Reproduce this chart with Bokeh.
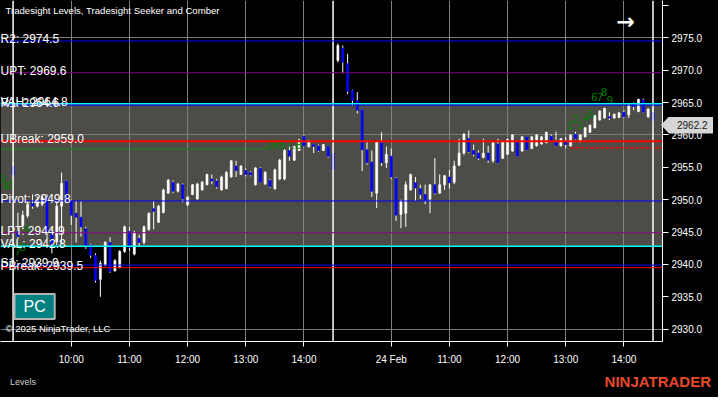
from bokeh.plotting import figure
from bokeh.layouts import column
from bokeh.models import Range1d, FixedTicker, Span, BoxAnnotation, Label, ColumnDataSource, NumeralTickFormatter, Div
from bokeh.embed import file_html
from bokeh.resources import INLINE
from bokeh.core.properties import value

# ---------------- data (5-minute bars, index 0..132) ----------------
opens = [2955.2, 2945.1, 2946.0, 2947.5, 2949.4, 2949.0, 2949.3, 2950.3, 2945.1, 2943.5,
         2949.0, 2952.9, 2949.8, 2947.9, 2947.3, 2945.5, 2943.0, 2941.4, 2937.7, 2939.9,
         2943.4, 2939.0, 2939.5, 2942.0, 2945.1, 2941.6, 2944.0, 2943.4, 2945.4, 2948.6,
         2946.5, 2948.0, 2951.0, 2952.7, 2951.3, 2952.3, 2949.2, 2950.8, 2950.1, 2951.5,
         2952.3, 2953.2, 2952.9, 2951.5, 2951.7, 2953.5, 2955.2, 2953.9, 2954.5, 2954.2,
         2952.3, 2954.8, 2952.4, 2953.0, 2951.7, 2953.2, 2953.2, 2957.6, 2956.1, 2957.6,
         2959.8, 2958.2, 2958.5, 2958.3, 2957.6, 2958.2, 2957.2,
         2971.5, 2973.4, 2971.0, 2966.9, 2965.3, 2963.9, 2957.7, 2955.8, 2951.0, 2958.8,
         2955.7, 2956.7, 2953.3, 2947.7, 2947.9, 2951.5, 2952.6, 2951.7, 2950.8, 2950.1,
         2952.3, 2951.0, 2952.3, 2953.5, 2952.7, 2955.3, 2957.2, 2959.4, 2957.6, 2957.2,
         2956.5, 2957.2, 2956.0, 2958.6, 2956.4, 2957.0, 2957.5, 2958.9, 2957.5, 2959.7,
         2957.9, 2958.3, 2958.6, 2958.8, 2959.8, 2959.1, 2958.3, 2958.9, 2958.3, 2960.1,
         2959.0, 2959.7, 2960.4, 2961.1, 2962.3, 2962.6, 2962.8, 2962.6, 2962.7, 2963.5,
         2963.1, 2964.8, 2963.6, 2965.4, 2962.8, 2963.5]
highs = [2955.7, 2948.0, 2948.3, 2949.8, 2950.8, 2950.5, 2950.6, 2950.8, 2945.4, 2949.8,
         2954.2, 2953.0, 2950.0, 2949.8, 2949.8, 2945.8, 2943.2, 2941.7, 2940.6, 2943.6,
         2944.2, 2940.8, 2942.2, 2946.0, 2945.8, 2945.2, 2944.6, 2946.0, 2948.0, 2949.8,
         2949.2, 2951.7, 2953.2, 2953.0, 2952.6, 2952.5, 2950.5, 2952.4, 2952.6, 2952.9,
         2954.0, 2953.9, 2953.2, 2953.7, 2954.4, 2956.1, 2956.0, 2955.3, 2954.8, 2954.4,
         2955.0, 2955.0, 2954.4, 2953.2, 2954.8, 2956.3, 2957.8, 2958.2, 2958.3, 2959.4,
         2960.0, 2959.2, 2958.6, 2958.5, 2958.6, 2958.3, 2957.4,
         2974.1, 2973.8, 2972.5, 2967.0, 2966.6, 2964.0, 2959.2, 2957.6, 2959.1, 2960.4,
         2958.2, 2957.9, 2953.5, 2950.0, 2952.8, 2954.0, 2953.5, 2952.3, 2952.3, 2952.4,
         2956.4, 2953.9, 2953.8, 2954.6, 2956.0, 2959.4, 2960.3, 2960.7, 2958.5, 2957.6,
         2959.4, 2958.3, 2958.9, 2959.4, 2959.1, 2959.4, 2960.1, 2959.1, 2959.8, 2959.8,
         2959.8, 2960.1, 2959.8, 2960.5, 2960.1, 2960.5, 2959.5, 2959.7, 2960.1, 2960.5,
         2960.1, 2961.2, 2961.6, 2963.1, 2963.8, 2964.2, 2963.5, 2963.3, 2963.5, 2963.8,
         2964.8, 2965.0, 2965.6, 2965.6, 2964.1, 2964.1]
lows = [2953.5, 2943.9, 2945.6, 2947.2, 2948.6, 2948.8, 2949.0, 2943.9, 2941.7, 2943.0,
        2943.1, 2949.8, 2946.1, 2943.4, 2944.3, 2942.4, 2941.0, 2937.2, 2935.0, 2939.7,
        2938.7, 2938.9, 2939.4, 2941.8, 2942.1, 2941.4, 2942.8, 2943.1, 2945.2, 2945.4,
        2946.4, 2947.9, 2950.9, 2951.0, 2951.1, 2949.6, 2949.0, 2950.7, 2950.0, 2951.4,
        2952.2, 2952.4, 2951.7, 2951.4, 2951.6, 2953.4, 2953.5, 2953.8, 2953.6, 2953.6,
        2952.2, 2952.6, 2952.3, 2951.8, 2951.5, 2953.0, 2953.0, 2956.0, 2956.0, 2957.5,
        2958.2, 2958.0, 2957.2, 2957.4, 2957.5, 2956.5, 2954.5,
        2971.2, 2969.5, 2966.3, 2964.5, 2963.3, 2954.4, 2955.4, 2950.4, 2948.7, 2955.2,
        2954.9, 2953.2, 2946.7, 2945.6, 2945.8, 2951.4, 2949.8, 2950.1, 2949.3, 2947.9,
        2950.8, 2950.9, 2951.5, 2951.7, 2952.4, 2955.2, 2956.9, 2957.2, 2956.7, 2956.1,
        2956.4, 2955.7, 2955.7, 2955.6, 2956.3, 2956.9, 2957.4, 2956.6, 2957.4, 2957.6,
        2957.8, 2958.2, 2958.5, 2958.7, 2958.9, 2958.2, 2958.2, 2957.9, 2958.2, 2959.3,
        2958.8, 2959.6, 2960.3, 2961.0, 2962.2, 2962.5, 2962.3, 2962.5, 2962.6, 2962.6,
        2962.6, 2963.8, 2963.5, 2963.4, 2962.6, 2962.2]
closes = [2953.8, 2944.3, 2947.6, 2949.3, 2949.0, 2950.0, 2950.3, 2945.1, 2943.1, 2949.0,
          2952.5, 2949.9, 2947.6, 2947.3, 2945.8, 2942.8, 2941.4, 2937.5, 2940.2, 2943.4,
          2938.9, 2940.6, 2942.0, 2945.8, 2942.6, 2944.9, 2943.4, 2945.8, 2947.9, 2948.2,
          2949.0, 2951.5, 2953.0, 2951.3, 2952.4, 2950.1, 2950.4, 2952.3, 2952.4, 2952.7,
          2953.9, 2952.9, 2952.0, 2953.5, 2954.2, 2956.0, 2954.5, 2955.2, 2953.9, 2953.8,
          2954.9, 2952.7, 2954.2, 2952.0, 2954.6, 2956.1, 2957.6, 2956.7, 2958.2, 2959.2,
          2958.3, 2959.1, 2958.2, 2957.6, 2958.5, 2956.7, 2954.6,
          2973.8, 2971.2, 2966.7, 2965.3, 2963.8, 2957.7, 2955.7, 2951.3, 2958.9, 2955.7,
          2957.0, 2953.5, 2947.6, 2949.8, 2952.3, 2953.9, 2951.8, 2950.8, 2949.9, 2952.3,
          2951.0, 2952.3, 2953.7, 2952.6, 2955.2, 2957.2, 2960.1, 2957.4, 2957.0, 2956.4,
          2957.2, 2956.1, 2958.8, 2955.7, 2959.0, 2959.3, 2960.0, 2956.7, 2959.7, 2957.7,
          2959.7, 2960.0, 2959.7, 2960.4, 2959.1, 2958.3, 2959.4, 2958.5, 2960.0, 2959.4,
          2960.0, 2961.1, 2961.5, 2963.0, 2963.7, 2964.1, 2962.6, 2963.2, 2963.4, 2962.8,
          2964.5, 2964.4, 2965.5, 2963.5, 2964.0, 2962.2]

level_names = ["R2", "UPT", "VAH", "R1", "UBreak", "Pivot", "LPT", "VAL", "S1", "PBreak"]
level_prices = [2974.5, 2969.6, 2964.8, 2964.6, 2959.0, 2949.8, 2944.9, 2942.8, 2939.9, 2939.5]
level_colors = ["#0000ff", "#800080", "#00ffff", "#0000ff", "#ff0000", "#0000ff", "#800080", "#00ffff", "#0000ff", "#ff0000"]

value_area_high = 2964.8
value_area_low = 2942.8

x_tick_idx = [12, 24, 36, 48, 60, 78, 90, 102, 114, 126]
x_tick_labels = ["10:00", "11:00", "12:00", "13:00", "14:00", "24 Feb", "11:00", "12:00", "13:00", "14:00"]
y_ticks = [2930, 2935, 2940, 2945, 2950, 2955, 2960, 2965, 2970, 2975, 2980]
y_grid_ticks = [2930, 2945, 2960, 2975]
session_marks = [0, 66, 132]

seeker_digits = ["3", "4", "5", "6", "7", "8", "1", "2", "3", "4", "5", "6", "7", "8", "9"]
seeker_idx = [-2.2, -1.5, -0.3, 3.0, 1.0, 2.0, 114.8, 116.0, 117.0, 118.2, 119.2, 119.9, 121.1, 121.9, 123.1]
seeker_price = [2953.2, 2952.1, 2952.4, 2945.4, 2942.0, 2942.7, 2961.6, 2962.5, 2961.6, 2962.6, 2963.3, 2965.9, 2965.9, 2966.6, 2965.4]

comber_level = 2957.8
comber_from, comber_to = -3, 52
red_dash_level = 2958.0
red_dash_from, red_dash_to = 115, 136
last_price = 2962.2

# ---------------- figure ----------------
W = 708
FOOT = 20
H = 387 - FOOT
RB, BB = 46, 26
FW, FH = W - RB, H - BB
FONT = "Liberation Sans"
Y0, Y1 = 2928.1, 2980.75

p = figure(width=W, height=H, output_backend="svg", toolbar_location=None,
           x_range=Range1d(-2.6, 133.96), y_range=Range1d(Y0, Y1),
           y_axis_location="right", min_border_left=0, min_border_top=0,
           min_border_right=RB, min_border_bottom=BB)
p.background_fill_color = "black"
p.border_fill_color = "black"
p.outline_line_color = None

# value area shading
box = BoxAnnotation(bottom=value_area_low, top=value_area_high, fill_color="#4e4c46", fill_alpha=1.0, line_color=None)
box.level = "image"
p.add_layout(box)

# grids
p.xgrid.ticker = FixedTicker(ticks=x_tick_idx)
p.ygrid.ticker = FixedTicker(ticks=y_grid_ticks)
p.xgrid.grid_line_color = "#808080"
p.ygrid.grid_line_color = "#7a7a7a"

# axes
xa = p.xaxis[0]
xa.ticker = FixedTicker(ticks=x_tick_idx)
xa.major_label_overrides = {t: l for t, l in zip(x_tick_idx, x_tick_labels)}
xa.axis_line_color = "white"
xa.major_tick_line_color = "white"
xa.major_tick_out = 5
xa.major_tick_in = 0
xa.minor_tick_line_color = None
xa.major_label_text_color = "white"
xa.major_label_text_font = FONT
xa.major_label_text_font_size = "10px"
xa.major_label_standoff = 7

ya = p.yaxis[0]
ya.ticker = FixedTicker(ticks=y_ticks)
ya.formatter = NumeralTickFormatter(format="0.0")
ya.major_label_overrides = {2980: ""}
ya.axis_line_color = "white"
ya.major_tick_line_color = "white"
ya.major_tick_out = 6
ya.major_tick_in = 0
ya.minor_tick_line_color = None
ya.major_label_text_color = "white"
ya.major_label_text_font = FONT
ya.major_label_text_font_size = "10px"
ya.major_label_standoff = 3

# candles
idx = list(range(len(opens)))
up = [c >= o for o, c in zip(opens, closes)]
src = ColumnDataSource(dict(
    x=idx, o=opens, h=highs, l=lows, c=closes,
    top=[max(o, c) for o, c in zip(opens, closes)],
    bot=[min(o, c) for o, c in zip(opens, closes)],
    col=["white" if u else "#0000ff" for u in up]))
p.segment(x0="x", y0="l", x1="x", y1="h", source=src, line_color="white", line_width=1)
p.vbar(x="x", width=0.42, top="top", bottom="bot", source=src, fill_color="col", line_color="col", line_width=0.6)

# session marks
for s in session_marks:
    p.add_layout(Span(location=s, dimension="height", line_color="white", line_width=1.5))

# level lines & labels
for name, pr, col in zip(level_names, level_prices, level_colors):
    lw = 2 if name == "UBreak" else (1.5 if col == "#00ffff" else 1)
    p.add_layout(Span(location=pr, dimension="width", line_color=col, line_width=lw))
for name, pr in zip(level_names, level_prices):
    p.add_layout(Label(x=0, x_units="screen", y=pr, text=f"{name}: {pr:.1f}", text_color="white",
                       text_font=FONT, text_font_size="12px",
                       text_baseline="alphabetic", y_offset=2))

# comber / seeker marks
p.segment(x0=[comber_from], y0=[comber_level], x1=[comber_to], y1=[comber_level],
          line_color="#00a000", line_dash="2 2", line_width=1.5)
p.text(x=[comber_to], y=[comber_level], text=[f"{comber_level:.1f}"], text_color="#008000",
       text_font=value(FONT), text_font_size="12px", text_baseline="bottom", text_align="left")
p.segment(x0=[red_dash_from], y0=[red_dash_level], x1=[red_dash_to], y1=[red_dash_level],
          line_color="#ff0000", line_dash="3 2", line_width=1.5)
p.text(x=seeker_idx, y=seeker_price, text=seeker_digits, text_color="#008000",
       text_font=value(FONT), text_font_size="11px", text_baseline="middle", text_align="center")

# decorations
p.add_layout(Label(x=5, y=FH - 4, x_units="screen", y_units="screen", text="Tradesight Levels, Tradesight Seeker and Comber",
                   text_color="white", text_font=FONT, text_font_size="9.6px", text_baseline="top"))
p.add_layout(Label(x=5, y=13, x_units="screen", y_units="screen", text="© 2025 NinjaTrader, LLC",
                   text_color="white", text_font=FONT, text_font_size="9.5px", text_baseline="middle"))
p.add_layout(Label(x=14, y=35, x_units="screen", y_units="screen", text="PC",
                   text_color="white", text_font=FONT, text_font_size="16px", text_baseline="middle",
                   background_fill_color="#008080", border_line_color="#b4b4b4", border_line_width=2,
                   padding=dict(left=9, right=9, top=4, bottom=4)))
p.add_layout(Label(x=FW - 46, y=FH - 21, x_units="screen", y_units="screen", text="→",
                   text_color="white", text_font="DejaVu Sans", text_font_size="22px", text_font_style="bold",
                   text_baseline="middle"))

# last-price marker on the price scale (HTML overlay, positioned from the price)
marker_top = (Y1 - last_price) / (Y1 - Y0) * FH - 8.5
marker = Div(text=f"{last_price:.1f}", width=52, height=17,
             styles={"position": "absolute", "left": f"{FW - 6}px", "top": f"{marker_top:.1f}px",
                     "z-index": "5", "background-color": "#d6d6d6", "color": "#202020",
                     "font-family": FONT, "font-size": "10px", "line-height": "17px",
                     "padding-left": "16px", "box-sizing": "border-box",
                     "clip-path": "polygon(0 50%, 8px 0, 100% 0, 100% 100%, 8px 100%)"})

footer = Div(text=("<div style='display:flex;justify-content:space-between;align-items:center;"
                   f"width:{W}px;height:{FOOT}px;background:black;font-family:\"{FONT}\";'>"
                   "<span style='color:#d0d0d0;font-size:9px;padding-left:5px;'>Levels</span>"
                   "<span style='color:#e8492a;font-size:15px;font-weight:bold;padding-right:2px;'>NINJATRADER</span>"
                   "</div>"),
             width=W, height=FOOT, styles={"background-color": "black"})

layout = column(p, footer, marker, spacing=0, styles={"position": "relative", "background-color": "black"})

open("out.html", "w").write(file_html(layout, INLINE))
